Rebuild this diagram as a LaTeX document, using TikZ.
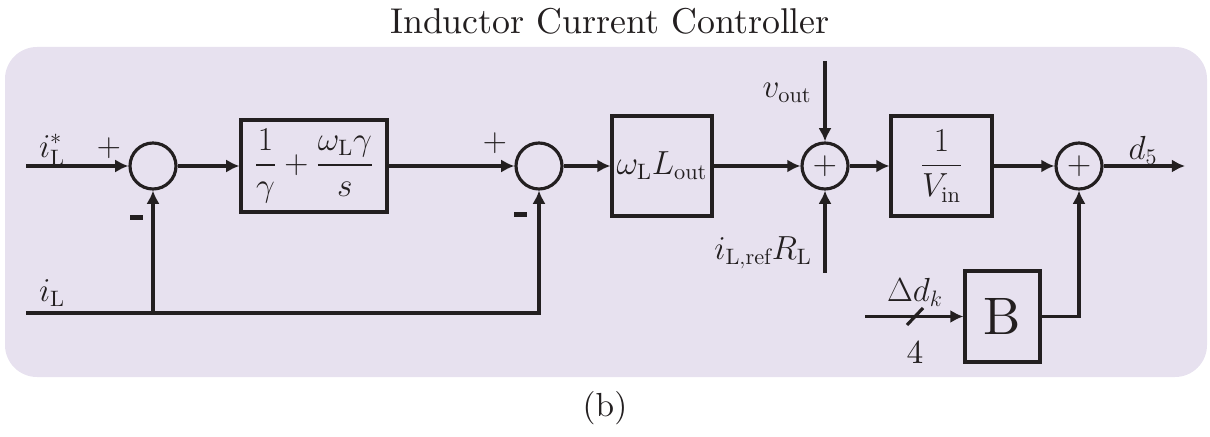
\documentclass[tikz,border=0pt]{standalone}
\usepackage{fix-cm}
\usepackage{amsmath,amssymb}
\usepackage{fontspec}
\setmainfont{lmroman10-regular.otf}[BoldFont=lmroman10-bold.otf, ItalicFont=lmroman10-italic.otf]
\usepackage{tikz}
\usepackage{xcolor}
\usetikzlibrary{arrows.meta}
\definecolor{iccpurple}{HTML}{E7E1EF}
\definecolor{iccline}{HTML}{231F20}
\DeclareMathSizes{19}{19}{12.7}{9.5}

\begin{document}
\begin{tikzpicture}[
    every node/.style={font=\fontsize{19}{23}\selectfont, text=iccline},
    box/.style={rectangle, draw=iccline, line width=1.8pt, inner sep=0pt, align=center},
    sumnode/.style={circle, draw=iccline, line width=1.8pt, minimum size=0.92cm, inner sep=0pt},
    arr/.style={-{Latex[length=7.5pt,width=7.5pt]}, line width=1.8pt, draw=iccline},
    sign/.style={fill=iccline, minimum width=0.26cm, minimum height=0.1cm, inner sep=0pt}
]
\useasboundingbox (0,0) rectangle (24.2,8.72);
\fill[iccpurple, rounded corners=0.64cm] (0.1,1.18) rectangle (24.14,7.78);

\node[font=\fontsize{20.4}{25}\selectfont] (title) at (12.2,8.3) {Inductor Current Controller};
\node (caption) at (12.1,0.56) {(b)};

\node[sumnode] (sum1) at (3.06,5.4) {};
\node[box, minimum width=2.92cm, minimum height=1.84cm] (pictrl) at (6.28,5.4) {$\dfrac{1}{\gamma} + \dfrac{\omega_\mathrm{L}\gamma}{s}$};
\node[sumnode] (sum2) at (10.78,5.4) {};
\node[box, minimum width=2cm, minimum height=2cm] (gain) at (13.24,5.4) {$\omega_\mathrm{L} L_\mathrm{out}$};
\node[sumnode] (sum3) at (16.5,5.4) {$+$};
\node[box, minimum width=2.02cm, minimum height=2cm] (inv) at (18.83,5.4) {$\dfrac{1}{V_\mathrm{in}}$};
\node[sumnode] (sum4) at (21.58,5.4) {$+$};
\node[box, minimum width=1.5cm, minimum height=1.82cm, font=\fontsize{30}{36}\selectfont] (bmat) at (20.05,2.39) {B};

\coordinate (iref) at (0.52,5.4);
\coordinate (ifb) at (0.52,2.46);
\coordinate (vtop) at (16.5,7.5);
\coordinate (rbot) at (16.5,3.26);
\coordinate (dout) at (23.7,5.4);
\coordinate (dkin) at (17.3,2.39);

\draw[arr] (iref) -- (sum1);
\draw[arr] (sum1) -- (pictrl);
\draw[arr] (pictrl) -- (sum2);
\draw[arr] (sum2) -- (gain);
\draw[arr] (gain) -- (sum3);
\draw[arr] (sum3) -- (inv);
\draw[arr] (inv) -- (sum4);
\draw[arr] (sum4) -- (dout);
\draw[arr] (vtop) -- (sum3);
\draw[arr] (rbot) -- (sum3);
\draw[arr] (ifb) -| (sum2);
\draw[arr] (ifb -| sum1) -- (sum1);
\draw[arr] (dkin) -- (bmat);
\draw[arr] (bmat) -| (sum4);
\draw[line width=1.8pt, draw=iccline] (18.3,2.39) ++(-0.16,-0.17) -- ++(0.32,0.34);

\node (lref) at (1.04,5.72) {$i_\mathrm{L}^*$};
\node (plus1) at (2.18,5.76) {$+$};
\node[sign] (minus1) at (2.72,4.36) {};
\node (lfb) at (1.04,2.86) {$i_\mathrm{L}$};
\node (plus2) at (9.9,5.86) {$+$};
\node[sign] (minus2) at (10.4,4.42) {};
\node (lvout) at (15.74,6.86) {$v_\mathrm{out}$};
\node (lrl) at (15.26,3.66) {$i_{\mathrm{L,ref}}R_\mathrm{L}$};
\node (ld5) at (22.86,5.72) {$d_5$};
\node (ldk) at (18.3,2.88) {$\Delta d_k$};
\node (lbus) at (18.3,1.68) {4};
\end{tikzpicture}
\end{document}
